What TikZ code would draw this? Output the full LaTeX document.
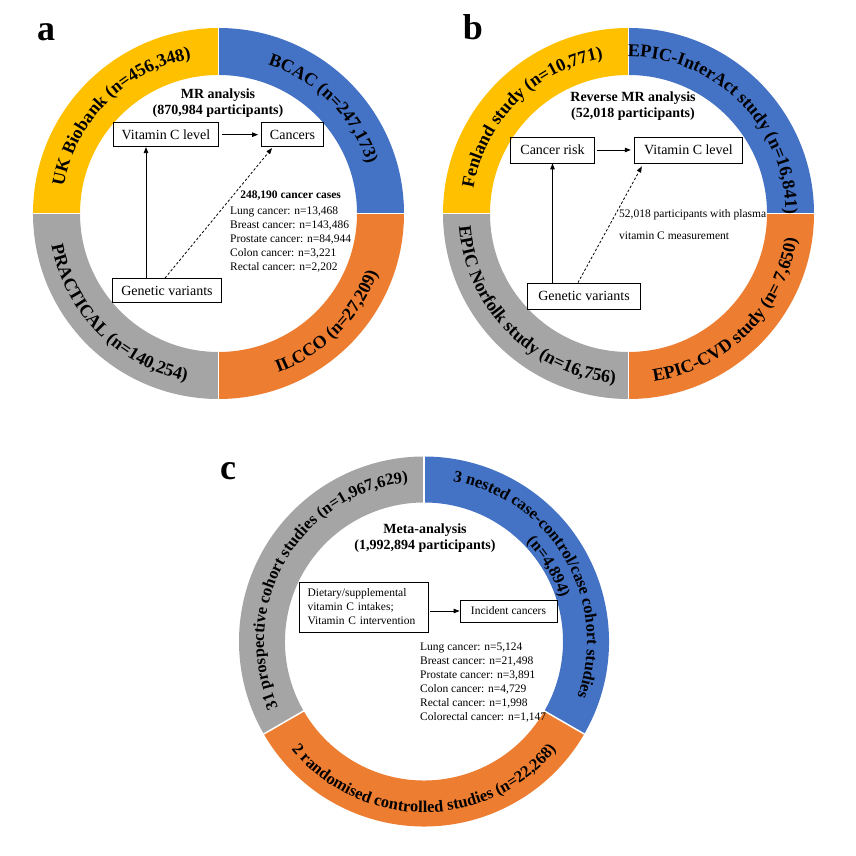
\documentclass[tikz,border=0pt]{standalone}
\usepackage{fontspec}
\setmainfont{Liberation Serif}
\usepackage{tikz}
\usetikzlibrary{positioning}
\usetikzlibrary{arrows.meta,decorations.text}

\definecolor{segYellow}{HTML}{FFC000}
\definecolor{segBlue}{HTML}{4472C4}
\definecolor{segOrange}{HTML}{ED7D31}
\definecolor{segGray}{HTML}{A5A5A5}

\newcommand\panelFont{\bfseries\fontsize{36pt}{36pt}\selectfont}
\newcommand\ringFont{\bfseries\fontsize{18pt}{18pt}\selectfont}
\newcommand\ringFontC{\bfseries\fontsize{16.5pt}{16.5pt}\selectfont}
\newcommand\titleFont{\bfseries\fontsize{14pt}{16pt}\selectfont}
\newcommand\boxFont{\fontsize{14pt}{16pt}\selectfont}
\newcommand\noteFont{\fontsize{11.5pt}{14pt}\selectfont}

\tikzset{
    quarterSeg/.pic={
		\fill[#1] (0:138.5) -- (0:185.5) arc[start angle=0, end angle=90, radius=185.5]
			-- (90:138.5) arc[start angle=90, end angle=0, radius=138.5] -- cycle;
	}
}
\tikzset{
    thirdSeg/.pic={
		\fill[#1] (0:139) -- (0:185) arc[start angle=0, end angle=120, radius=185]
			-- (120:139) arc[start angle=120, end angle=0, radius=139] -- cycle;
	}
}
\tikzset{
    ringLabel/.style={decorate, decoration={text along path, text align=center, text={|\ringFont|#1}}},
    ringLabelC/.style={decorate, decoration={text along path, text align=center, text={|\ringFontC|#1}}},
    boxNode/.style={draw, line width=0.8pt, inner xsep=8.5pt, inner ysep=0pt, minimum height=24pt, font=\boxFont},
    titleNode/.style={align=center, inner sep=0pt, anchor=north, font=\titleFont},
    noteNode/.style={align=left, inner sep=0pt, anchor=north west, font=\noteFont},
    arr/.style={-{Triangle[length=6pt,width=4.5pt]}, line width=0.8pt},
    dashArr/.style={arr, dash pattern=on 2.5pt off 2pt}
}

\begin{document}
\begin{tikzpicture}[x=1pt, y=1pt]
	\useasboundingbox (0,0) rectangle (856,856);
	\coordinate (ringA) at (218.5,642.5);
	\coordinate (ringB) at (628.5,642.5);
	\coordinate (ringC) at (424,214.5);

	% a: MR analysis
	\pic[rotate=0] at (ringA) {quarterSeg={segBlue}};
	\pic[rotate=90] at (ringA) {quarterSeg={segYellow}};
	\pic[rotate=180] at (ringA) {quarterSeg={segGray}};
	\pic[rotate=270] at (ringA) {quarterSeg={segOrange}};
	\foreach \a in {0,90,180,270}
		\draw[white, line width=1.5pt] ([shift={(\a:136)}]ringA) -- ([shift={(\a:188)}]ringA);
	\path[ringLabel={UK Biobank (n=456,348)}] ([shift={(180:157)}]ringA) arc[start angle=180, end angle=90, radius=157];
	\path[ringLabel={BCAC (n=247,173)}] ([shift={(90:157)}]ringA) arc[start angle=90, end angle=0, radius=157];
	\path[ringLabel={PRACTICAL (n=140,254)}] ([shift={(180:170)}]ringA) arc[start angle=180, end angle=270, radius=170];
	\path[ringLabel={ILCCO (n=27,209)}] ([shift={(270:170)}]ringA) arc[start angle=270, end angle=360, radius=170];

	\node[anchor=base, font=\panelFont] (labA) at (46,815) {a};
	\node[titleNode] (titleA) at (218,767.5) {MR analysis\\(870,984 participants)};
	\node[boxNode] (vitA) at (166,721.3) {Vitamin C level};
	\node[boxNode] (canA) at (292.5,721.3) {Cancers};
	\node[boxNode] (genA) at (167,565.5) {Genetic variants};
	\node[noteNode] (listA) at (230,649.8) {Lung cancer: n=13,468\\Breast cancer: n=143,486\\Prostate cancer: n=84,944\\Colon cancer: n=3,221\\Rectal cancer: n=2,202};
	\node[noteNode, font=\bfseries\noteFont, above=5.5pt of listA] (headA) {248,190 cancer cases};
	\draw[arr, shorten <=3pt, shorten >=3pt] (vitA) -- (canA);
	\draw[arr] ([xshift=-21pt]genA.north) -- ([xshift=-20pt]vitA.south);
	\draw[dashArr] ([xshift=-2pt]genA.north) -- ([xshift=11pt, yshift=-1pt]canA.south west);

	% b: reverse MR analysis
	\pic[rotate=0] at (ringB) {quarterSeg={segBlue}};
	\pic[rotate=90] at (ringB) {quarterSeg={segYellow}};
	\pic[rotate=180] at (ringB) {quarterSeg={segGray}};
	\pic[rotate=270] at (ringB) {quarterSeg={segOrange}};
	\foreach \a in {0,90,180,270}
		\draw[white, line width=1.5pt] ([shift={(\a:136)}]ringB) -- ([shift={(\a:188)}]ringB);
	\path[ringLabel={Fenland study (n=10,771)}] ([shift={(180:157)}]ringB) arc[start angle=180, end angle=90, radius=157];
	\path[ringLabel={EPIC-InterAct study (n=16,841)}] ([shift={(92:157)}]ringB) arc[start angle=92, end angle=-2, radius=157];
	\path[ringLabel={EPIC Norfolk study (n=16,756)}] ([shift={(180:170)}]ringB) arc[start angle=180, end angle=270, radius=170];
	\path[ringLabel={EPIC-CVD study (n= 7,650)}] ([shift={(270:170)}]ringB) arc[start angle=270, end angle=360, radius=170];

	\node[anchor=base, font=\panelFont] (labB) at (473,816) {b};
	\node[titleNode] (titleB) at (633,764.5) {Reverse MR analysis\\(52,018 participants)};
	\node[boxNode, inner xsep=10pt, minimum height=26pt] (riskB) at (552.5,706) {Cancer risk};
	\node[boxNode, inner xsep=10pt, minimum height=26pt] (vitB) at (688.5,706) {Vitamin C level};
	\node[boxNode, inner xsep=11pt, minimum height=26pt] (genB) at (584,560) {Genetic variants};
	\node[noteNode, font=\fontsize{11.5pt}{22pt}\selectfont] (noteB) at (619,646.8) {52,018 participants with plasma\\vitamin C measurement};
	\draw[arr, shorten <=2pt, shorten >=3pt] (riskB) -- (vitB);
	\draw[arr] ([xshift=-31.5pt]genB.north) -- (riskB.south);
	\draw[dashArr] ([xshift=-6pt]genB.north) -- ([xshift=8pt, yshift=-3pt]vitB.south west);

	% c: meta-analysis
	\pic[rotate=90] at (ringC) {thirdSeg={segGray}};
	\pic[rotate=210] at (ringC) {thirdSeg={segOrange}};
	\pic[rotate=330] at (ringC) {thirdSeg={segBlue}};
	\foreach \a in {90,210,330}
		\draw[white, line width=1.5pt] ([shift={(\a:136)}]ringC) -- ([shift={(\a:188)}]ringC);
	\path[ringLabelC={31 prospective cohort studies (n=1,967,629)}] ([shift={(210:160)}]ringC) arc[start angle=210, end angle=90, radius=160];
	\path[ringLabelC={3 nested case-control/case cohort studies}] ([shift={(90:163)}]ringC) arc[start angle=90, end angle=-30, radius=163];
	\path[ringLabelC={(n=4,894)}] ([shift={(60:143)}]ringC) arc[start angle=60, end angle=2, radius=143];
	\path[ringLabelC={2 randomised controlled studies (n=22,268)}] ([shift={(210:171)}]ringC) arc[start angle=210, end angle=330, radius=171];

	\node[anchor=base, font=\panelFont] (labC) at (228,376) {c};
	\node[titleNode] (titleC) at (425,332.5) {Meta-analysis\\(1,992,894 participants)};
	\node[boxNode, font=\noteFont, text width=112pt, align=left, inner ysep=6pt, minimum height=50pt] (dietC) at (363.5,249) {Dietary/supplemental\\vitamin C intakes;\\Vitamin C intervention};
	\node[boxNode, font=\noteFont, minimum width=97pt, minimum height=22pt] (incC) at (508.5,245) {Incident cancers};
	\node[noteNode] (listC) at (420,213.8) {Lung cancer: n=5,124\\Breast cancer: n=21,498\\Prostate cancer: n=3,891\\Colon cancer: n=4,729\\Rectal cancer: n=1,998\\Colorectal cancer: n=1,147};
	\draw[arr, shorten <=2pt] (dietC.east |- incC.west) -- (incC.west);
\end{tikzpicture}
\end{document}
